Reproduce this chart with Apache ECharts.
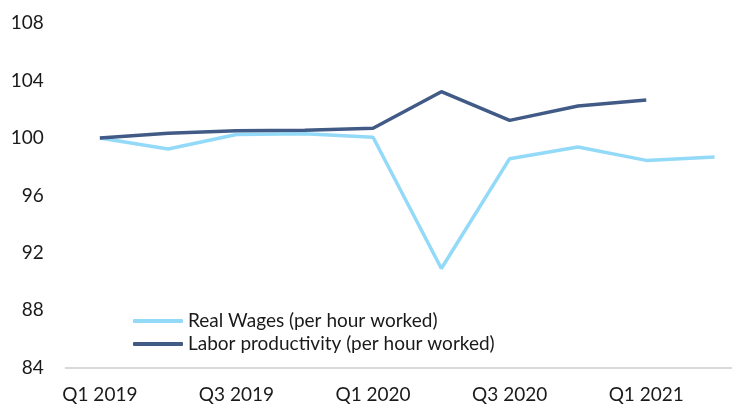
<!DOCTYPE html>
<html>
<head>
<meta charset="utf-8">
<script src="https://cdn.jsdelivr.net/npm/echarts@6/dist/echarts.min.js"></script>
<style>
    html, body { margin: 0; padding: 0; background: #fff; }
    #chartContainer { width: 732px; height: 407px; }
</style>
</head>
<body>
<div id="chartContainer"></div>
<script>
const quarters = ['Q1 2019', 'Q2 2019', 'Q3 2019', 'Q4 2019', 'Q1 2020', 'Q2 2020', 'Q3 2020', 'Q4 2020', 'Q1 2021', 'Q2 2021'];
const realWages = [100, 99.23, 100.25, 100.3, 100.05, 90.9, 98.56, 99.37, 98.44, 98.67];
const laborProductivity = [100, 100.33, 100.5, 100.55, 100.68, 103.23, 101.23, 102.23, 102.65, null];
const yTicks = [84, 88, 92, 96, 100, 104, 108];

const fontName = 'Lato';
const chart = echarts.init(document.getElementById('chartContainer'), null, {renderer: 'canvas'});
const option = {
    animation: false,
    grid: {
        left: 65.7,
        right: -16.7,
        top: 23.3,
        bottom: 39.5,
        outerBoundsMode: 'none'
    },
    legend: {
        orient: 'vertical',
        left: 133,
        top: 311.5,
        padding: 0,
        itemWidth: 50,
        itemHeight: 4,
        itemGap: 4,
        icon: 'roundRect',
        textStyle: {
            fontFamily: fontName,
            fontSize: 19,
            lineHeight: 19,
            color: '#1a1a1a'
        },
        data: ['Real Wages (per hour worked)', 'Labor productivity (per hour worked)']
    },
    xAxis: {
        type: 'category',
        data: quarters,
        axisLine: {lineStyle: {color: '#d9d9d9', width: 2}},
        axisTick: {show: false},
        axisLabel: {
            interval: 1,
            fontFamily: fontName,
            fontSize: 19,
            color: '#1a1a1a',
            margin: 18
        }
    },
    yAxis: {
        type: 'value',
        min: yTicks[0],
        max: yTicks[yTicks.length - 1],
        interval: 4,
        splitLine: {show: false},
        axisLine: {show: false},
        axisTick: {show: false},
        axisLabel: {
            fontFamily: fontName,
            fontSize: 19,
            color: '#1a1a1a',
            margin: 22
        }
    },
    series: [
        {
            name: 'Real Wages (per hour worked)',
            type: 'line',
            data: realWages,
            symbol: 'none',
            color: '#93d9f8',
            lineStyle: {width: 3.5, color: '#93d9f8'}
        },
        {
            name: 'Labor productivity (per hour worked)',
            type: 'line',
            data: laborProductivity,
            symbol: 'none',
            color: '#415b86',
            lineStyle: {width: 3.5, color: '#415b86'}
        }
    ]
};
chart.setOption(option);
</script>
</body>
</html>
